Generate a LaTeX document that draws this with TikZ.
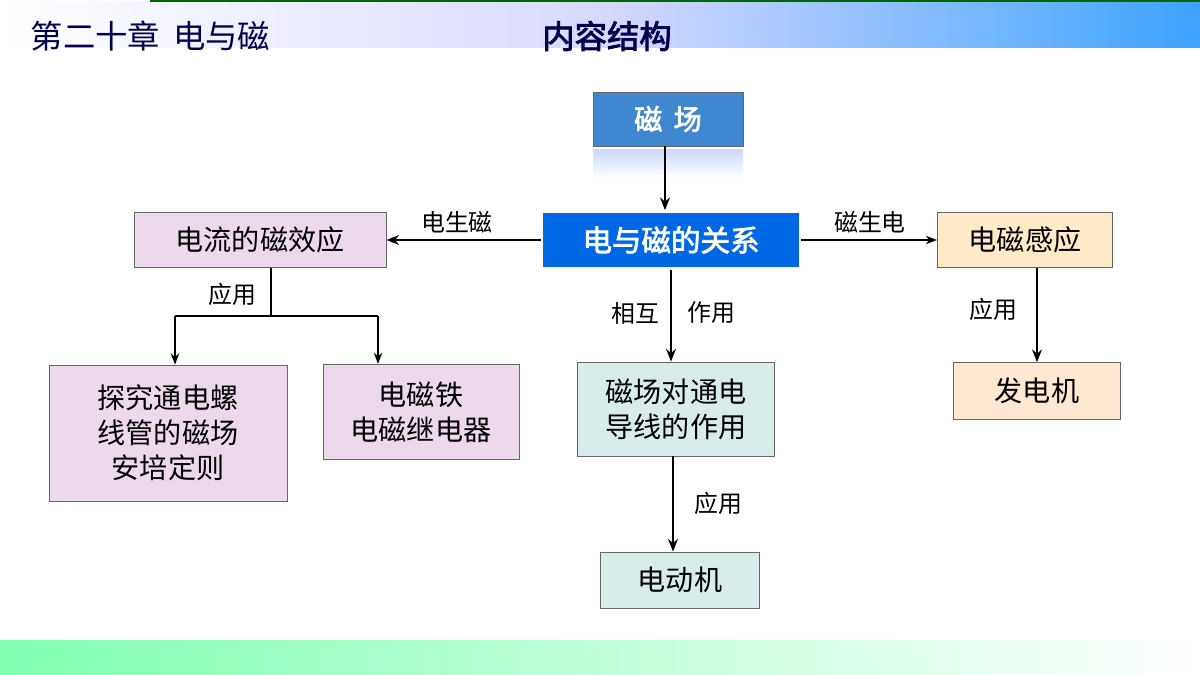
\documentclass[tikz,border=0pt]{standalone}
\usepackage{fontspec}
\setmainfont{Noto Sans CJK SC}
\newfontfamily\cjkb[FakeBold=2.5]{Noto Sans CJK SC}
\usetikzlibrary{arrows.meta}
\begin{document}
\begin{tikzpicture}[x=0.025cm,y=-0.025cm,
  box/.style={draw=gray!80!black,line width=0.6pt,inner sep=0pt,align=center,font=\fontsize{20}{25}\selectfont},
  lbl/.style={font=\fontsize{17}{20}\selectfont,inner sep=1pt},
  arr/.style={-{Stealth[length=9pt,width=7pt]},line width=1.6pt},
  thin arr/.style={-{Stealth[length=8pt,width=6pt]},line width=1pt}]
\useasboundingbox (0,0) rectangle (1200,675);
\fill[white] (0,0) rectangle (1200,675);
% header
\shade[left color=white,right color=white!40!blue!60!cyan,middle color=blue!15] (0,2) rectangle (1200,48);
\fill[green!40!black] (150,0) rectangle (1200,2);
\shade[left color=green!60!cyan!50,right color=white] (0,640) rectangle (1200,675);
\node[anchor=west,text=blue!30!black,font=\fontsize{23}{26}\selectfont] (t1) at (26,36) {第二十章\hspace{0.4em}电与磁};
\node[text=blue!30!black,font=\fontsize{23}{26}\selectfont\cjkb] (t2) at (607,36) {内容结构};
% nodes
\node[box,fill=cyan!55!blue!80,minimum width=150\pgflinewidth,text width=3.75cm,minimum height=1.35cm,text=white,font=\fontsize{20}{24}\selectfont\cjkb] (cc) at (668,119) {磁\hspace{0.4em}场};
\shade[top color=cyan!25!blue!20,bottom color=white] (593,150) rectangle (743,178);
\node[box,draw=white,line width=2pt,fill=blue!55!cyan!90!black,text=white,minimum width=6.45cm,minimum height=1.42cm,font=\fontsize{21}{24}\selectfont\cjkb] (gx) at (671,240) {电与磁的关系};
\node[box,fill=violet!15,minimum width=6.3cm,minimum height=1.38cm] (dl) at (260,240) {电流的磁效应};
\node[box,fill=yellow!25!orange!20,minimum width=4.38cm,minimum height=1.38cm] (gy) at (1025,240) {电磁感应};
\node[box,fill=violet!15,minimum width=5.95cm,minimum height=3.4cm] (tj) at (168,433) {探究通电螺\\线管的磁场\\安培定则};
\node[box,fill=violet!15,minimum width=4.9cm,minimum height=2.38cm] (dt) at (421,412) {电磁铁\\电磁继电器};
\node[box,fill=teal!15,minimum width=4.93cm,minimum height=2.35cm] (zy) at (676,409) {磁场对通电\\导线的作用};
\node[box,fill=teal!15,minimum width=3.98cm,minimum height=1.4cm] (dd) at (680,580) {电动机};
\node[box,fill=orange!18,minimum width=4.18cm,minimum height=1.42cm] (fd) at (1037,391) {发电机};
% connectors
\draw[arr] (cc.south -| 665,0) -- (gx.north -| 665,0);
\draw[arr] (gx.west) -- (dl.east);
\draw[thin arr] (gx.east) -- (gy.west);
\node[lbl] (l1) at (457,222) {电生磁};
\node[lbl] (l2) at (870,222) {磁生电};
\draw[arr] (gx.south) -- (zy.north -| gx.south);
\node[lbl] (l3) at (635,313) {相互};
\node[lbl] (l4) at (711,313) {作用};
\coordinate (b0) at (271,316);
\coordinate (bl) at (175,316);
\coordinate (br) at (378,316);
\draw[line width=1.6pt] (dl.south -| b0) -- (b0);
\draw[line width=1.2pt] (bl) -- (br);
\draw[thin arr] (bl) -- (tj.north -| bl);
\draw[thin arr] (br) -- (dt.north -| br);
\node[lbl] (l5) at (232,294) {应用};
\draw[arr] (gy.south -| fd.north) -- (fd.north);
\node[lbl] (l6) at (993,309) {应用};
\draw[arr] (zy.south -| 673,0) -- (dd.north -| 673,0);
\node[lbl] (l7) at (718,503) {应用};
\end{tikzpicture}
\end{document}
